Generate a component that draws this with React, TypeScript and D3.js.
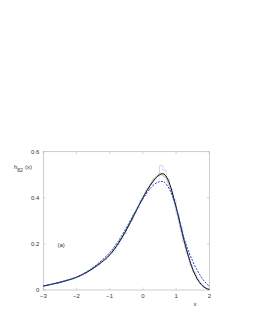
import React, { useRef, useEffect } from 'react';
import * as d3 from 'd3';

// theory curve (solid black) and approximation (blue dashed)
const curveX = [-3, -2.75, -2.5, -2.25, -2, -1.75, -1.5, -1.25, -1, -0.75, -0.5, -0.25, 0, 0.25, 0.5, 0.6, 0.75, 1, 1.25, 1.5, 1.75, 2];
const blackY = [0.017, 0.025, 0.033, 0.043, 0.055, 0.072, 0.094, 0.12, 0.152, 0.2, 0.26, 0.33, 0.4, 0.46, 0.5, 0.505, 0.48, 0.36, 0.21, 0.09, 0.025, 0.002];
const blueY = [0.017, 0.025, 0.034, 0.044, 0.056, 0.074, 0.098, 0.127, 0.162, 0.21, 0.27, 0.335, 0.395, 0.445, 0.47, 0.471, 0.45, 0.36, 0.22, 0.125, 0.058, 0.015];

// simulated histograms, coarse ones (bin 0.2) drawn through bin centres
const coarseStart = -2.9;
const coarseWidth = 0.2;
const histGreen = [0.02, 0.027, 0.032, 0.042, 0.049, 0.062, 0.077, 0.093, 0.116, 0.14, 0.171, 0.208, 0.262, 0.314, 0.377, 0.43, 0.476, 0.503, 0.488, 0.412, 0.288, 0.172, 0.089, 0.034, 0.008];
const histOrange = [0.021, 0.025, 0.034, 0.04, 0.052, 0.06, 0.079, 0.092, 0.118, 0.138, 0.174, 0.206, 0.265, 0.31, 0.38, 0.426, 0.48, 0.506, 0.495, 0.405, 0.295, 0.168, 0.092, 0.036, 0.007];
const histPink = [0.019, 0.028, 0.031, 0.043, 0.048, 0.064, 0.074, 0.097, 0.112, 0.143, 0.168, 0.213, 0.256, 0.319, 0.372, 0.434, 0.47, 0.51, 0.484, 0.418, 0.283, 0.176, 0.087, 0.033, 0.009];
// fine histogram (bin 0.1) drawn as steps
const fineStart = -3;
const fineWidth = 0.1;
const histBlue = [0.018, 0.022, 0.024, 0.029, 0.03, 0.036, 0.038, 0.044, 0.047, 0.054, 0.057, 0.066, 0.071, 0.081, 0.088, 0.1, 0.108, 0.121, 0.131, 0.147, 0.159, 0.18, 0.198, 0.224, 0.245, 0.276, 0.3, 0.332, 0.356, 0.388, 0.41, 0.439, 0.458, 0.482, 0.493, 0.54, 0.52, 0.482, 0.438, 0.392, 0.328, 0.272, 0.208, 0.162, 0.108, 0.077, 0.044, 0.026, 0.011, 0.005];

const xTicks = [-3, -2, -1, 0, 1, 2];
const yTicks = [0, 0.2, 0.4, 0.6];

const Chart = () => {
  const ref = useRef(null);

  useEffect(() => {
    const svg = d3.select(ref.current);
    svg.selectAll('*').remove();

    const x = d3.scaleLinear().domain([-3, 2]).range([43.3, 209.3]);
    const y = d3.scaleLinear().domain([0, 0.6]).range([290, 151.7]);
    const font = 'Liberation Sans, Arial, sans-serif';

    // frame
    svg.append('rect')
      .attr('x', x(-3)).attr('y', y(0.6))
      .attr('width', x(2) - x(-3)).attr('height', y(0) - y(0.6))
      .attr('fill', 'none').attr('stroke', '#b8b8b8').attr('stroke-width', 0.7);

    // inward ticks on all four sides
    xTicks.forEach(t => {
      svg.append('line').attr('x1', x(t)).attr('x2', x(t)).attr('y1', y(0)).attr('y2', y(0) - 2.5)
        .attr('stroke', '#b8b8b8').attr('stroke-width', 0.6);
      svg.append('line').attr('x1', x(t)).attr('x2', x(t)).attr('y1', y(0.6)).attr('y2', y(0.6) + 2.5)
        .attr('stroke', '#b8b8b8').attr('stroke-width', 0.6);
      svg.append('text').attr('x', x(t)).attr('y', y(0) + 8)
        .attr('text-anchor', 'middle').style('font-family', font).style('font-size', '6px').attr('fill', '#333')
        .text(t < 0 ? '\u2212' + Math.abs(t) : String(t));
    });
    yTicks.forEach(t => {
      svg.append('line').attr('x1', x(-3)).attr('x2', x(-3) + 2.5).attr('y1', y(t)).attr('y2', y(t))
        .attr('stroke', '#b8b8b8').attr('stroke-width', 0.6);
      svg.append('line').attr('x1', x(2)).attr('x2', x(2) - 2.5).attr('y1', y(t)).attr('y2', y(t))
        .attr('stroke', '#b8b8b8').attr('stroke-width', 0.6);
      svg.append('text').attr('x', x(-3) - 4).attr('y', y(t) + 2)
        .attr('text-anchor', 'end').style('font-family', font).style('font-size', '6px').attr('fill', '#333')
        .text(t === 0 ? '0' : t.toFixed(1));
    });

    // coarse histograms as thin lines through bin centres
    const poly = d3.line().x(d => x(d[0])).y(d => y(d[1]));
    [[histPink, '#f4c4c8'], [histOrange, '#f2d2a6'], [histGreen, '#b9dcb0']].forEach(([vals, c]) => {
      svg.append('path').attr('d', poly(vals.map((v, i) => [coarseStart + i * coarseWidth, v])))
        .attr('fill', 'none').attr('stroke', c).attr('stroke-width', 1);
    });

    // fine histogram as steps
    const step = d3.line().x(d => x(d[0])).y(d => y(d[1])).curve(d3.curveStepAfter);
    const finePts = histBlue.map((v, i) => [fineStart + i * fineWidth, v]);
    finePts.push([fineStart + histBlue.length * fineWidth, histBlue[histBlue.length - 1]]);
    svg.append('path').attr('d', step(finePts))
      .attr('fill', 'none').attr('stroke', '#c4d0f4').attr('stroke-width', 0.8);

    const smooth = d3.line().x(d => x(d[0])).y(d => y(d[1])).curve(d3.curveMonotoneX);
    svg.append('path').attr('d', smooth(curveX.map((v, i) => [v, blackY[i]])))
      .attr('fill', 'none').attr('stroke', '#111').attr('stroke-width', 1);
    svg.append('path').attr('d', smooth(curveX.map((v, i) => [v, blueY[i]])))
      .attr('fill', 'none').attr('stroke', '#1f3ee0').attr('stroke-width', 1)
      .attr('stroke-dasharray', '2,1.3');

    // labels
    const yl = svg.append('text').attr('x', 14).attr('y', 169)
      .style('font-family', font).style('font-size', '6px').attr('fill', '#333');
    yl.append('tspan').text('h');
    yl.append('tspan').attr('dy', 3).style('font-size', '5px').text('82');
    yl.append('tspan').attr('dy', -3).attr('dx', 2).text('(x)');

    svg.append('text').attr('x', 57.5).attr('y', 246.5)
      .style('font-family', font).style('font-size', '6px').attr('fill', '#333').text('(a)');
    svg.append('text').attr('x', 195).attr('y', 306)
      .attr('text-anchor', 'middle').style('font-family', font).style('font-size', '6px').attr('fill', '#333').text('x');
  }, []);

  return <svg ref={ref} width={253} height={327} style={{ position: 'absolute', left: 0, top: 0, background: '#fff' }}></svg>;
};

export default function App() {
  return <Chart />;
}
